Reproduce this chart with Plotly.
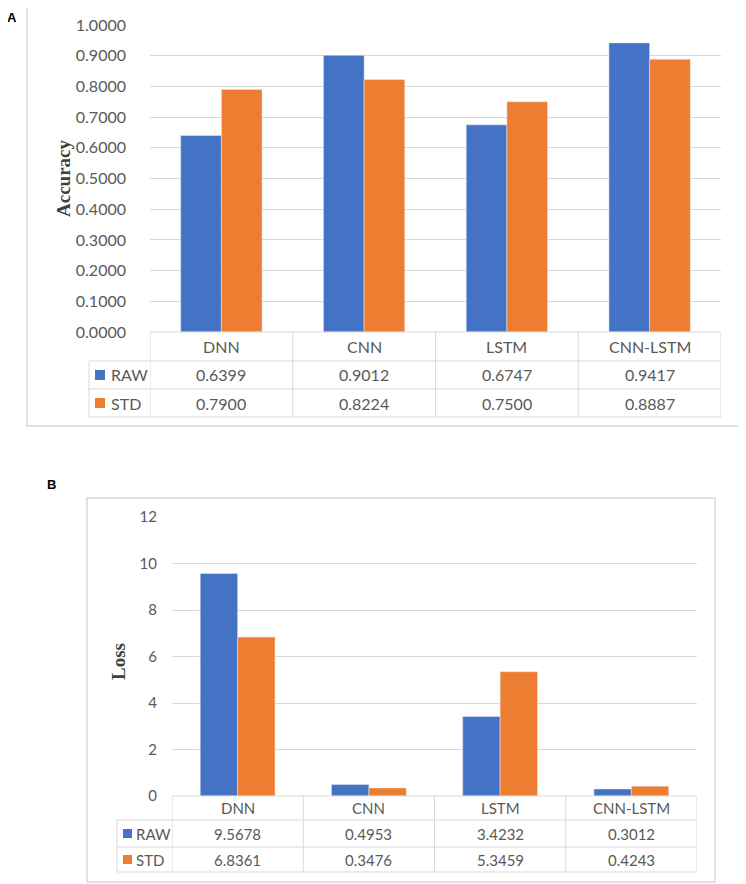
import plotly.graph_objects as go

# page has an 8px default body margin: the figure is drawn 8px in from the top-left
OFF = 8
W, H = 746 - OFF, 884 - OFF

categories = ["DNN", "CNN", "LSTM", "CNN-LSTM"]
series_names = ["RAW", "STD"]
acc_raw = [0.6399, 0.9012, 0.6747, 0.9417]
acc_std = [0.7900, 0.8224, 0.7500, 0.8887]
loss_raw = [9.5678, 0.4953, 3.4232, 0.3012]
loss_std = [6.8361, 0.3476, 5.3459, 0.4243]
acc_ticks = [0.0, 0.1, 0.2, 0.3, 0.4, 0.5, 0.6, 0.7, 0.8, 0.9, 1.0]
loss_ticks = [0, 2, 4, 6, 8, 10, 12]

BLUE = "#4472C4"
ORANGE = "#ED7D31"
GRID = "#D9D9D9"
TXT = "#595959"
FONT = "Lato"


def X(px):
    return (px - OFF) / W


def Y(py):
    return 1 - (py - OFF) / H


fig = go.Figure()

fig.add_trace(go.Bar(x=categories, y=acc_raw, name="RAW", marker_color=BLUE,
                     xaxis="x", yaxis="y"))
fig.add_trace(go.Bar(x=categories, y=acc_std, name="STD", marker_color=ORANGE,
                     xaxis="x", yaxis="y"))
fig.add_trace(go.Bar(x=categories, y=loss_raw, name="RAW", marker_color=BLUE,
                     xaxis="x2", yaxis="y2"))
fig.add_trace(go.Bar(x=categories, y=loss_std, name="STD", marker_color=ORANGE,
                     xaxis="x2", yaxis="y2"))

# geometry (screen pixels)
A = dict(x0=150, x1=721, ytop=25, ybot=332, leg0=89, rows=[361, 389, 417])
B = dict(x0=172, x1=697, ytop=517, ybot=796, leg0=117, rows=[820, 847, 872])

fig.update_layout(
    width=W, height=H,
    margin=dict(l=0, r=0, t=0, b=0, pad=0, autoexpand=False),
    paper_bgcolor="white", plot_bgcolor="white",
    showlegend=False,
    barmode="group", bargap=0.43, bargroupgap=0,
    xaxis=dict(domain=[X(A["x0"]), X(A["x1"])], anchor="y", range=[-0.5, 3.5],
               showticklabels=False, showgrid=False, zeroline=False, showline=False,
               automargin=False),
    yaxis=dict(domain=[Y(A["ybot"]), Y(A["ytop"])], anchor="x", range=[0, 1.0],
               tickvals=acc_ticks, tickformat=".4f", showgrid=True, gridcolor=GRID,
               gridwidth=1, zeroline=False, showline=False, ticks="",
               ticklabelstandoff=23, automargin=False,
               tickfont=dict(family=FONT, size=16, color=TXT)),
    xaxis2=dict(domain=[X(B["x0"]), X(B["x1"])], anchor="y2", range=[-0.5, 3.5],
                showticklabels=False, showgrid=False, zeroline=False, showline=False,
                automargin=False),
    yaxis2=dict(domain=[Y(B["ybot"]), Y(B["ytop"])], anchor="x2", range=[0, 12],
                tickvals=loss_ticks, showgrid=True, gridcolor=GRID,
                gridwidth=1, zeroline=False, showline=False, ticks="",
                ticklabelstandoff=14, automargin=False,
                tickfont=dict(family=FONT, size=15, color=TXT)),
)

shapes = []
annotations = []


def line(x0, y0, x1, y1, xref="paper"):
    shapes.append(dict(type="line", xref=xref, yref="paper",
                       x0=x0, x1=x1, y0=Y(y0), y1=Y(y1),
                       line=dict(color=GRID, width=1)))


def text(x, y, s, size, color=TXT, family=FONT, xref="paper", xanchor="center", angle=0):
    annotations.append(dict(x=x, y=y, xref=xref, yref="paper", text=s, showarrow=False,
                            xanchor=xanchor, yanchor="middle", textangle=angle,
                            font=dict(family=family, size=size, color=color)))


# panel borders
for (bx0, by0, bx1, by1) in [(27, 3, 740, 426), (87, 498, 715, 882)]:
    shapes.append(dict(type="rect", xref="paper", yref="paper",
                       x0=X(bx0), x1=X(bx1), y0=Y(by1), y1=Y(by0),
                       line=dict(color=GRID, width=1.5), fillcolor="rgba(0,0,0,0)"))


def table(G, xaxis, raw, std, fsize, sq, txt_x):
    top = G["ybot"]
    r1, r2, r3 = G["rows"]
    line(-0.5, top, 3.5, top, xref=xaxis)
    for yy in (r1, r2, r3):
        line(X(G["leg0"]), yy, X(G["x1"]), yy)
    for k in range(len(categories) + 1):
        line(k - 0.5, top, k - 0.5, r3, xref=xaxis)
    line(X(G["leg0"]), r1, X(G["leg0"]), r3)
    for c in categories:
        text(c, Y((top + r1) / 2), c, fsize, xref=xaxis)
    for row_y0, row_y1, vals, name, col in [(r1, r2, raw, series_names[0], BLUE),
                                             (r2, r3, std, series_names[1], ORANGE)]:
        cy = (row_y0 + row_y1) / 2
        for c, v in zip(categories, vals):
            text(c, Y(cy), f"{v:.4f}", fsize, xref=xaxis)
        sx = G["leg0"] + 6
        shapes.append(dict(type="rect", xref="paper", yref="paper",
                           x0=X(sx), x1=X(sx + sq), y0=Y(cy + sq / 2), y1=Y(cy - sq / 2),
                           fillcolor=col, line=dict(width=0)))
        text(X(txt_x), Y(cy), name, fsize, xanchor="left")


table(A, "x", acc_raw, acc_std, 16, 10, 109)
table(B, "x2", loss_raw, loss_std, 15, 9, 134)

text(X(64), Y(178), "<b>Accuracy</b>", 19, color="#404040", family="Liberation Serif", angle=-90)
text(X(118), Y(662), "<b>Loss</b>", 19, color="#404040", family="Liberation Serif", angle=-90)
text(X(12), Y(17), "<b>A</b>", 13, color="black", family="Liberation Sans")
text(X(51), Y(484), "<b>B</b>", 13, color="black", family="Liberation Sans")

fig.update_layout(shapes=shapes, annotations=annotations)
fig.write_html("out.html")
